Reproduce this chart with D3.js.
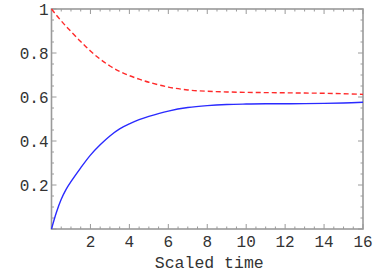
<!DOCTYPE html>
<html><head><meta charset="utf-8">
<script src="https://cdn.jsdelivr.net/npm/d3@7"></script>
<style>html,body{margin:0;padding:0;background:#fff;}svg{display:block;}</style>
</head><body>
<svg id="c" width="391" height="277"></svg>
<script>
const times = [0,0.25,0.5,0.75,1,1.5,2,2.5,3,3.5,4,4.5,5,6,7,8,9,10,11,12,13,14,15,16];
const blueSeries = [0,0.075,0.135,0.18,0.215,0.278,0.336,0.383,0.423,0.455,0.478,0.497,0.512,0.536,0.552,0.561,0.566,0.568,0.569,0.569,0.57,0.571,0.573,0.576];
const redSeries = [1,0.972,0.946,0.921,0.898,0.852,0.809,0.772,0.741,0.716,0.697,0.681,0.667,0.645,0.632,0.626,0.623,0.621,0.620,0.619,0.618,0.617,0.615,0.612];
const xTicks = [2,4,6,8,10,12,14,16];
const yTicks = [0.2,0.4,0.6,0.8,1];
const xLabel = "Scaled time";

const svg = d3.select("#c");
const L = 51.5, R = 363, T = 9, B = 229;
const x = d3.scaleLinear().domain([0,16]).range([L,R]);
const y = d3.scaleLinear().domain([0,1]).range([B,T]);
const frameCol = "#9a9a9a";
const font = "'Liberation Mono', 'DejaVu Sans Mono', monospace";

const g = svg.append("g");
const xMinor = d3.range(0, 16.001, 0.5);
const yMinor = d3.range(0, 1.0001, 0.05);
const isMajorX = v => Math.abs(v/2 - Math.round(v/2)) < 1e-6;
const isMajorY = v => Math.abs(v/0.2 - Math.round(v/0.2)) < 1e-6;
xMinor.forEach(v => {
  const len = isMajorX(v) ? 5 : 2.5;
  g.append("line").attr("x1", x(v)).attr("x2", x(v)).attr("y1", B).attr("y2", B - len).attr("stroke", frameCol).attr("stroke-width", 1);
  g.append("line").attr("x1", x(v)).attr("x2", x(v)).attr("y1", T).attr("y2", T + len).attr("stroke", frameCol).attr("stroke-width", 1);
});
yMinor.forEach(v => {
  const len = isMajorY(v) ? 5 : 2.5;
  g.append("line").attr("x1", L).attr("x2", L + len).attr("y1", y(v)).attr("y2", y(v)).attr("stroke", frameCol).attr("stroke-width", 1);
  g.append("line").attr("x1", R).attr("x2", R - len).attr("y1", y(v)).attr("y2", y(v)).attr("stroke", frameCol).attr("stroke-width", 1);
});
g.append("rect").attr("x", L).attr("y", T).attr("width", R - L).attr("height", B - T)
  .attr("fill", "none").attr("stroke", frameCol).attr("stroke-width", 1.6);

const line = d3.line().x((d,i) => x(times[i])).y(d => y(d)).curve(d3.curveCatmullRom.alpha(0.5));
svg.append("path").datum(blueSeries).attr("d", line).attr("fill", "none")
  .attr("stroke", "#2a2aff").attr("stroke-width", 1.4);
svg.append("path").datum(redSeries).attr("d", line).attr("fill", "none")
  .attr("stroke", "#ff2a2a").attr("stroke-width", 1.4).attr("stroke-dasharray", "5,3");

svg.selectAll(".xl").data(xTicks).enter().append("text")
  .attr("x", d => x(d)).attr("y", 247).attr("text-anchor", "middle")
  .attr("font-family", font).attr("font-size", 16).attr("fill", "#333")
  .text(d => d);
svg.selectAll(".yl").data(yTicks).enter().append("text")
  .attr("x", 48.5).attr("y", d => y(d) + 5.5).attr("text-anchor", "end")
  .attr("font-family", font).attr("font-size", 16).attr("fill", "#333")
  .text(d => d === 1 ? "1" : d3.format(".1f")(d));
svg.append("text").attr("x", (L + R) / 2 + 2).attr("y", 268).attr("text-anchor", "middle")
  .attr("font-family", font).attr("font-size", 16.5).attr("fill", "#333").text(xLabel);
</script>
</body></html>
